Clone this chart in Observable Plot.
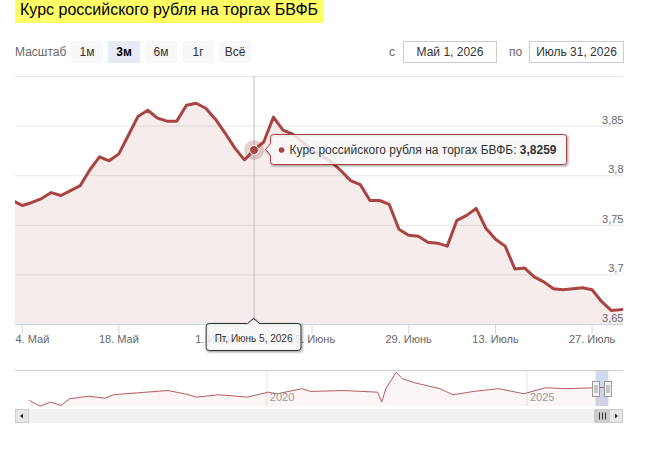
<!DOCTYPE html>
<html><head><meta charset="utf-8">
<script src="https://cdn.jsdelivr.net/npm/d3@7"></script>
<script src="https://cdn.jsdelivr.net/npm/@observablehq/plot@0.6"></script>
<style>
html,body{margin:0;padding:0;background:#fff;}
#root{position:relative;width:657px;height:454px;overflow:hidden;font-family:"Liberation Sans",Arial,sans-serif;}
#root svg{position:absolute;left:0;overflow:visible;}
</style></head><body><div id="root"></div>
<script>
// ---------- data ----------
const chartTitle = "Курс российского рубля на торгах БВФБ";
const seriesName = "Курс российского рубля на торгах БВФБ";
const dates = [
"2026-04-30",
"2026-05-04","2026-05-05","2026-05-06","2026-05-07","2026-05-08",
"2026-05-11","2026-05-12","2026-05-13","2026-05-14","2026-05-15",
"2026-05-18","2026-05-19","2026-05-20","2026-05-21","2026-05-22",
"2026-05-25","2026-05-26","2026-05-27","2026-05-28","2026-05-29",
"2026-06-01","2026-06-02","2026-06-03","2026-06-04","2026-06-05",
"2026-06-08","2026-06-09","2026-06-10","2026-06-11","2026-06-12",
"2026-06-15","2026-06-16","2026-06-17","2026-06-18","2026-06-19",
"2026-06-22","2026-06-23","2026-06-24","2026-06-25","2026-06-26",
"2026-06-29","2026-06-30","2026-07-01","2026-07-02",
"2026-07-06","2026-07-07","2026-07-08","2026-07-09","2026-07-10",
"2026-07-13","2026-07-14","2026-07-15","2026-07-16","2026-07-17",
"2026-07-20","2026-07-21","2026-07-22","2026-07-23","2026-07-24",
"2026-07-27","2026-07-28","2026-07-29","2026-07-30","2026-07-31"];
const rates = [
3.775,
3.770,3.773,3.777,3.783,3.780,
3.785,3.790,3.806,3.819,3.815,
3.822,3.841,3.860,3.866,3.858,
3.855,3.855,3.871,3.873,3.868,
3.857,3.843,3.828,3.816,3.8259,
3.834,3.859,3.846,3.842,3.834,
3.826,3.820,3.814,3.805,3.795,
3.791,3.775,3.775,3.771,3.746,
3.740,3.739,3.733,3.732,
3.729,3.755,3.760,3.767,3.747,
3.736,3.729,3.706,3.707,3.698,
3.693,3.686,3.685,3.686,3.687,
3.685,3.673,3.664,3.665,3.665];
const tickDates = ["2026-05-04","2026-05-18","2026-06-01","2026-06-15","2026-06-29","2026-07-13","2026-07-27"];
const monthNames = ["Янв","Фев","Мар","Апр","Май","Июнь","Июль","Авг","Сен","Окт","Ноя","Дек"];
const weekdayNames = ["Вс","Пн","Вт","Ср","Чт","Пт","Сб"];
const yGridTicks = [3.7,3.75,3.8,3.85,3.9];
const yLabelTicks = [3.65,3.7,3.75,3.8,3.85];
const yDomain = [3.65,3.9];
const hoverDate = "2026-06-05";
const rangeButtons = ["1м","3м","6м","1г","Всё"];
const selectedButton = "3м";
const zoomLabel = "Масштаб";
const rangeStart = "2026-05-01";
const rangeEnd = "2026-07-31";
const navDates = ["2015-06-10","2015-08-22","2015-11-06","2016-01-18","2016-03-17","2016-07-26","2016-11-20","2017-01-18","2017-07-16","2018-02-06","2018-06-03","2018-08-29","2019-01-26","2019-08-18","2020-01-12","2020-03-12","2020-09-06","2020-11-03","2021-06-25","2022-02-17","2022-03-18","2022-04-16","2022-06-28","2022-08-10","2022-11-06","2023-05-01","2023-07-31","2023-12-24","2024-06-17","2024-12-12","2025-05-08","2025-09-30","2026-04-25","2026-07-24"];
const navRates = [3.08,2.77,2.99,2.81,3.17,3.31,3.20,3.39,3.50,3.62,3.44,3.26,3.39,3.26,3.53,3.44,3.72,3.57,3.62,3.53,2.99,3.72,4.62,4.26,4.04,3.72,3.39,3.57,3.72,3.44,3.77,3.72,3.77,3.80];
const navYears = ["2020","2025"];
const navDomain = ["2015-03-03","2026-11-10"];
const navYDomain = [2.75,4.71];

// ---------- helpers ----------
const FONT = '"Liberation Sans", Arial, sans-serif';
const SERIES = "#a94442";
const parse = s => new Date(s + "T00:00:00Z");
const idxOf = s => dates.indexOf(s) - 1;           // ordinal (trading-day) position
const fmtAxis = s => { const d = parse(s); return d.getUTCDate() + ". " + monthNames[d.getUTCMonth()]; };
const fmtLong = s => { const d = parse(s); return monthNames[d.getUTCMonth()] + " " + d.getUTCDate() + ", " + d.getUTCFullYear(); };
const fmtHeader = s => weekdayNames[parse(s).getUTCDay()] + ", " + fmtLong(s);
const fmtNum = v => String(v).replace(".", ",");

const data = dates.map((d, k) => ({i: k - 1, date: d, v: rates[k]}));
const tickIdx = tickDates.map(idxOf);
const tickLabel = new Map(tickDates.map(d => [idxOf(d), fmtAxis(d)]));
const hoverIdx = idxOf(hoverDate);
const hoverRate = rates[dates.indexOf(hoverDate)];
const xDomain = [-0.7, 62.25];

const root = document.getElementById("root");

// ---------- main chart ----------
const main = Plot.plot({
  width: 657, height: 360,
  marginTop: 76, marginRight: 34, marginBottom: 36, marginLeft: 15,
  x: {domain: xDomain},
  y: {domain: yDomain, axis: null},
  style: {fontFamily: FONT, fontSize: "11px", background: "transparent", overflow: "visible"},
  marks: [
    Plot.ruleY(yGridTicks, {stroke: "#e6e6e6"}),
    Plot.areaY(data, {x: "i", y1: yDomain[0], y2: "v", fill: SERIES, fillOpacity: 0.1, clip: true}),
    Plot.ruleX([hoverIdx], {stroke: "#bfbfbf"}),
    Plot.lineY(data, {x: "i", y: "v", stroke: SERIES, strokeWidth: 3, strokeLinejoin: "round", clip: true}),
    Plot.ruleY([yDomain[0]], {stroke: "#ccd6eb"}),
    Plot.axisX({ticks: tickIdx, tickSize: 10, tickPadding: 1, stroke: "#ccd6eb", fill: "#666",
      tickFormat: i => i === tickIdx[0] ? "" : tickLabel.get(i), label: null}),
    Plot.text([tickDates[0]], {x: () => xDomain[0], frameAnchor: "bottom", textAnchor: "start", lineAnchor: "top",
      dy: 11, text: d => fmtAxis(d), fill: "#666"}),
    Plot.text(yLabelTicks, {y: d => d, frameAnchor: "right", textAnchor: "end", dy: -6, text: fmtNum, fill: "#666"}),
    Plot.dot([hoverIdx], {x: d => d, y: () => hoverRate, r: 10, fill: SERIES, fillOpacity: 0.25}),
    Plot.dot([hoverIdx], {x: d => d, y: () => hoverRate, r: 4.5, fill: SERIES, stroke: "#fff", strokeWidth: 1})
  ]
});
main.style.top = "0px";
root.appendChild(main);

// tooltips drawn with the plot's own scales
{
  const px = main.scale("x").apply(hoverIdx);
  const py = main.scale("y").apply(hoverRate);
  const g = d3.select(main).append("g").attr("font-family", FONT).attr("text-anchor", "start");
  const shadowG = g.append("g");
  const box = g.append("path").attr("fill", "rgba(247,247,247,0.85)").attr("stroke", SERIES).attr("stroke-width", 1);
  const L = px + 17, T = py - 15, B = py + 15;
  g.append("circle").attr("cx", L + 11).attr("cy", py + 0.5).attr("r", 2.8).attr("fill", SERIES);
  const t = g.append("text").attr("x", L + 19).attr("y", py + 4.5).attr("font-size", 12).attr("fill", "#333").attr("text-anchor", "start");
  t.append("tspan").text(seriesName + ": ");
  t.append("tspan").attr("font-weight", "bold").text(hoverRate.toFixed(4).replace(".", ","));
  const R = L + 19 + t.node().getComputedTextLength() + 10;
  const dPath = `M${L+3},${T}H${R-3}Q${R},${T} ${R},${T+3}V${B-3}Q${R},${B} ${R-3},${B}H${L+3}Q${L},${B} ${L},${B-3}V${py+6}L${px+12},${py}L${L},${py-6}V${T+3}Q${L},${T} ${L+3},${T}Z`;
  box.attr("d", dPath);
  [1,2,3].forEach(k => shadowG.append("path").attr("d", dPath).attr("transform", "translate(1,1)")
    .attr("fill", "none").attr("stroke", "#000").attr("stroke-opacity", 0.05 * k).attr("stroke-width", 7 - 2 * k));

  // x header label
  const hg = g.append("g");
  const hShadow = hg.append("g");
  const hBox = hg.append("path").attr("fill", "rgba(247,247,247,0.85)").attr("stroke", "#333").attr("stroke-width", 1);
  const ht = hg.append("text").attr("x", px).attr("y", 342).attr("text-anchor", "middle").attr("font-size", 10).attr("fill", "#333").text(fmtHeader(hoverDate));
  const hw = ht.node().getComputedTextLength();
  const hL = px - hw / 2 - 8.5, hR = px + hw / 2 + 8.5, hT = 323.5, hB = 350.5;
  const hPath = `M${hL+3},${hT}H${px-6}L${px},${hT-5}L${px+6},${hT}H${hR-3}Q${hR},${hT} ${hR},${hT+3}V${hB-3}Q${hR},${hB} ${hR-3},${hB}H${hL+3}Q${hL},${hB} ${hL},${hB-3}V${hT+3}Q${hL},${hT} ${hL+3},${hT}Z`;
  hBox.attr("d", hPath);
  [1,2,3].forEach(k => hShadow.append("path").attr("d", hPath).attr("transform", "translate(1,1)")
    .attr("fill", "none").attr("stroke", "#000").attr("stroke-opacity", 0.05 * k).attr("stroke-width", 7 - 2 * k));
}

// ---------- navigator ----------
const navData = navDates.map((d, k) => ({date: parse(d), v: navRates[k]}));
const nav = Plot.plot({
  width: 657, height: 64,
  marginTop: 8, marginRight: 34, marginBottom: 20, marginLeft: 15,
  x: {type: "utc", domain: navDomain.map(parse), axis: null},
  y: {domain: navYDomain, axis: null},
  style: {fontFamily: FONT, fontSize: "11px", background: "transparent", overflow: "visible"},
  marks: [
    Plot.ruleX(navYears, {x: d => parse(d + "-01-01"), stroke: "#e6e6e6"}),
    Plot.areaY(navData, {x: "date", y1: navYDomain[0], y2: "v", fill: SERIES, fillOpacity: 0.05}),
    Plot.lineY(navData, {x: "date", y: "v", stroke: SERIES, strokeWidth: 1, strokeOpacity: 0.85}),
    Plot.text(navYears, {x: d => parse(d + "-01-01"), frameAnchor: "bottom", textAnchor: "start", dx: 3, dy: -5.5, text: d => d, fill: "#999"}),
    Plot.rect([0], {x1: () => parse(rangeStart), x2: () => parse(rangeEnd), fill: "#6685c2", fillOpacity: 0.3}),
    Plot.ruleY([navYDomain[1]], {stroke: "#cccccc"})
  ]
});
nav.style.top = "362px";
root.appendChild(nav);
{
  const nx = nav.scale("x");
  const g = d3.select(nav).append("g");
  const x0 = nx.apply(parse(rangeStart)), x1 = nx.apply(parse(rangeEnd));
  // scrollbar
  g.append("rect").attr("x", 15).attr("y", 47).attr("width", 608).attr("height", 14).attr("fill", "#f2f2f2");
  g.append("rect").attr("x", x0 - 1).attr("y", 47.5).attr("width", x1 - x0 + 2).attr("height", 13).attr("fill", "#cccccc").attr("stroke", "#cccccc");
  const gc = (x0 + x1) / 2;
  [-3, 0, 3].forEach(d => g.append("line").attr("x1", gc + d + 0.5).attr("x2", gc + d + 0.5).attr("y1", 50.5).attr("y2", 57.5).attr("stroke", "#333"));
  g.append("rect").attr("x", 15.5).attr("y", 47.5).attr("width", 13).attr("height", 13).attr("fill", "#e6e6e6").attr("stroke", "#cccccc");
  g.append("path").attr("d", "M23,51.5L20,54L23,56.5Z").attr("fill", "#333");
  g.append("rect").attr("x", 609.5).attr("y", 47.5).attr("width", 13).attr("height", 13).attr("fill", "#e6e6e6").attr("stroke", "#cccccc");
  g.append("path").attr("d", "M615,51.5L618,54L615,56.5Z").attr("fill", "#333");
  // handles
  [x0, x1].forEach(x => {
    const hx = Math.round(x) + 0.5;
    g.append("rect").attr("x", hx - 4).attr("y", 19.5).attr("width", 7).attr("height", 15).attr("fill", "#f2f2f2").attr("stroke", "#999");
    g.append("line").attr("x1", hx - 1.5).attr("x2", hx - 1.5).attr("y1", 23).attr("y2", 31).attr("stroke", "#999");
    g.append("line").attr("x1", hx + 0.5).attr("x2", hx + 0.5).attr("y1", 23).attr("y2", 31).attr("stroke", "#999");
  });
}

// ---------- HTML header: title, range selector, date inputs ----------
function el(style, text) {
  const e = document.createElement("div");
  Object.assign(e.style, {position: "absolute", whiteSpace: "nowrap", boxSizing: "border-box"}, style);
  if (text != null) e.textContent = text;
  root.appendChild(e);
  return e;
}
el({left: "15px", top: "0px", height: "23px", lineHeight: "20px", background: "#ffff66", fontSize: "16px",
    color: "#000", padding: "0 6px 0 5px"}, chartTitle);
el({left: "15px", top: "43px", lineHeight: "18px", fontSize: "12px", color: "#666"}, zoomLabel);
rangeButtons.forEach((b, k) => {
  const sel = b === selectedButton;
  el({left: (71 + 37 * k) + "px", top: "41px", width: "32px", height: "22px", lineHeight: "22px", textAlign: "center",
      fontSize: "12px", background: sel ? "#e6ebf5" : "#f7f7f7", color: sel ? "#000" : "#333",
      fontWeight: sel ? "bold" : "normal", borderRadius: "2px"}, b);
});
el({left: "389px", top: "43px", lineHeight: "18px", fontSize: "12px", color: "#666"}, "с");
el({left: "403px", top: "41px", width: "94px", height: "22px", lineHeight: "20px", textAlign: "center",
    fontSize: "12px", color: "#333", border: "1px solid #cccccc", background: "#fff"}, fmtLong(rangeStart));
el({left: "509px", top: "43px", lineHeight: "18px", fontSize: "12px", color: "#666"}, "по");
el({left: "529px", top: "41px", width: "95px", height: "22px", lineHeight: "20px", textAlign: "center",
    fontSize: "12px", color: "#333", border: "1px solid #cccccc", background: "#fff"}, fmtLong(rangeEnd));
</script>
</body></html>
